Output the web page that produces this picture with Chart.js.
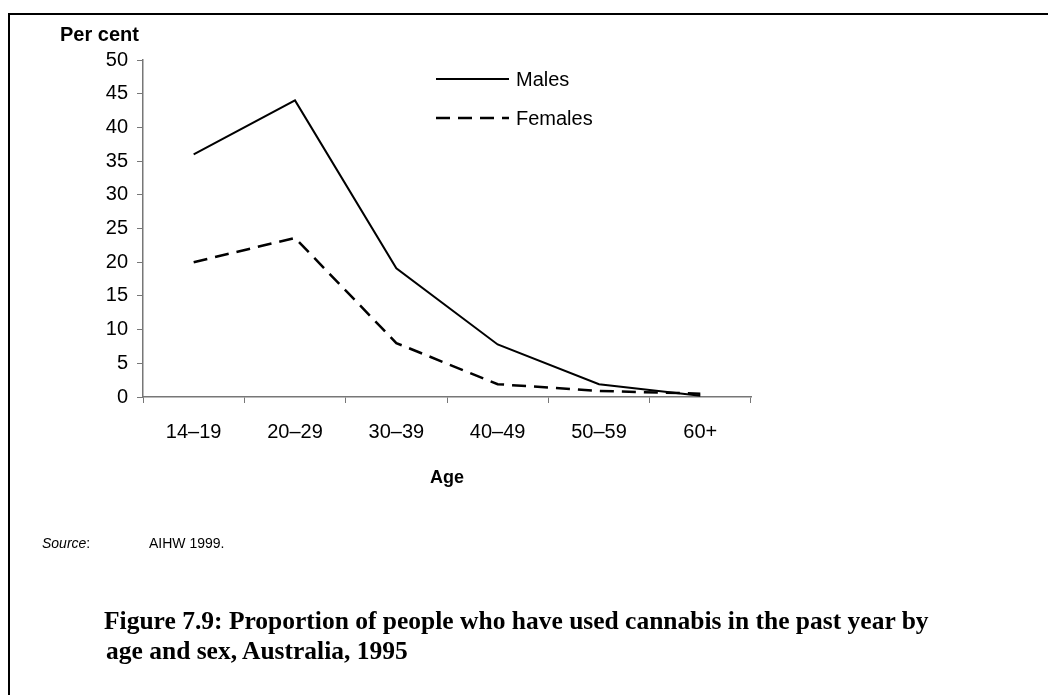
<!DOCTYPE html>
<html>
<head>
<meta charset="utf-8">
<script src="https://cdn.jsdelivr.net/npm/chart.js@4.4.1/dist/chart.umd.min.js"></script>
<style>
  html, body { margin: 0; padding: 0; background: #fff; }
  body { width: 1048px; height: 695px; position: relative; overflow: hidden; font-family: "Liberation Sans", Arial, sans-serif; color: #000; }
  #frame { position: absolute; left: 8px; top: 13px; width: 1040px; height: 690px; border-top: 2px solid #000; border-left: 2px solid #000; }
  #wrap { position: absolute; left: 0; top: 0; width: 1048px; height: 695px; }
  .txt { position: absolute; white-space: nowrap; line-height: 1; }
  #yTitle { left: 60px; top: 24px; font-size: 20px; font-weight: bold; }
  #source { left: 42px; top: 536px; font-size: 14px; }
  #source span { display: inline-block; width: 107px; }
  .caption { font-family: "Liberation Serif", "DejaVu Serif", serif; font-weight: bold; font-size: 25.5px; }
  #cap1 { left: 104px; top: 608px; }
  #cap2 { left: 106px; top: 638px; }
</style>
</head>
<body>
<div id="frame"></div>
<div id="wrap"><canvas id="graficoCannabis"></canvas></div>
<div class="txt" id="yTitle">Per cent</div>
<div class="txt" id="source"><span><i>Source</i>:</span>AIHW 1999.</div>
<div class="txt caption" id="cap1">Figure 7.9: Proportion of people who have used cannabis in the past year by</div>
<div class="txt caption" id="cap2">age and sex, Australia, 1995</div>

<script>
// ---------- dados ----------
const faixasEtarias = ["14–19", "20–29", "30–39", "40–49", "50–59", "60+"];
const homens = [36, 44, 19.1, 7.8, 1.9, 0.2];
const mulheres = [20, 23.6, 8, 1.9, 0.9, 0.5];
const rotulosSeries = ["Males", "Females"];
const eixoYMin = 0;
const eixoYMax = 50;
const eixoYPasso = 5;

// ---------- legenda desenhada dentro da área do gráfico ----------
const legendaInterna = {
  id: "legendaInterna",
  afterDraw(chart) {
    const { ctx, chartArea } = chart;
    const x0 = chartArea.left + 293;
    const y0 = chartArea.top + 19;
    chart.data.datasets.forEach((ds, i) => {
      const y = y0 + i * 39;
      ctx.save();
      ctx.strokeStyle = ds.borderColor;
      ctx.lineWidth = ds.borderWidth;
      ctx.setLineDash(ds.borderDash || []);
      ctx.beginPath();
      ctx.moveTo(x0, y);
      ctx.lineTo(x0 + 73, y);
      ctx.stroke();
      ctx.setLineDash([]);
      ctx.fillStyle = "#000";
      ctx.font = "20px 'Liberation Sans', Arial, sans-serif";
      ctx.textBaseline = "middle";
      ctx.fillText(ds.label, x0 + 80, y + 1);
      ctx.restore();
    });
  }
};

// ---------- gráfico ----------
function desenharGrafico() {
  const ctx = document.getElementById("graficoCannabis").getContext("2d");

  new Chart(ctx, {
    type: "line",
    data: {
      labels: faixasEtarias,
      datasets: [
        {
          label: rotulosSeries[0],
          data: homens,
          borderColor: "#000",
          borderWidth: 2,
          pointRadius: 0,
          tension: 0
        },
        {
          label: rotulosSeries[1],
          data: mulheres,
          borderColor: "#000",
          borderWidth: 2.5,
          borderDash: [14, 8],
          pointRadius: 0,
          tension: 0
        }
      ]
    },
    options: {
      responsive: true,
      maintainAspectRatio: false,
      animation: false,
      layout: { padding: { left: 83, top: 60, right: 297, bottom: 202 } },
      plugins: {
        legend: { display: false },
        tooltip: { enabled: false }
      },
      scales: {
        x: {
          offset: true,
          afterFit: (s) => { s.height = 96; },
          grid: { offset: true, drawOnChartArea: false, tickLength: 6, color: "#777" },
          border: { color: "#777", width: 1.5 },
          ticks: { color: "#000", padding: 17, font: { family: "'Liberation Sans', Arial, sans-serif", size: 20 } },
          title: {
            display: true,
            text: "Age",
            color: "#000",
            padding: { top: 10 },
            font: { family: "'Liberation Sans', Arial, sans-serif", size: 18, weight: "bold" }
          }
        },
        y: {
          min: eixoYMin,
          max: eixoYMax,
          afterFit: (s) => { s.width = 60; },
          grid: { drawOnChartArea: false, tickLength: 6, color: "#777" },
          border: { color: "#777", width: 1.5 },
          ticks: {
            stepSize: eixoYPasso,
            color: "#000",
            padding: 9,
            font: { family: "'Liberation Sans', Arial, sans-serif", size: 20 }
          }
        }
      }
    },
    plugins: [legendaInterna]
  });
}

document.addEventListener("DOMContentLoaded", desenharGrafico);
</script>
</body>
</html>
